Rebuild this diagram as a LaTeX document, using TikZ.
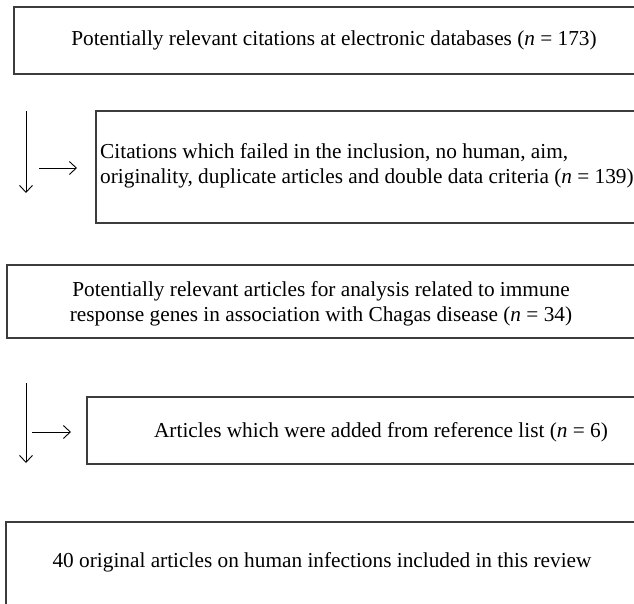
\documentclass[tikz,border=0pt]{standalone}
\usepackage{fontspec}
\setmainfont{Liberation Serif}
\usetikzlibrary{arrows.meta}
\definecolor{boxgray}{RGB}{60,60,60}
\tikzset{
  box/.style={draw=boxgray, line width=1.3pt},
  lbl/.style={font=\fontsize{21.3}{25}\selectfont, align=center, inner sep=0pt},
  flow/.style={line width=0.9pt, -{Straight Barb[length=7pt,width=13pt]}}
}
\begin{document}
\begin{tikzpicture}[x=1pt, y=-1pt]
\useasboundingbox (0,0) rectangle (634,603);
\clip (0,0) rectangle (634,603);
\draw[box] (14,7) rectangle (700,74);
\node[lbl] (cit) at (334,40) {Potentially relevant citations at electronic databases (\textit{n}~=~173)};
\draw[box] (96,111) rectangle (700,223);
\node[lbl, align=left, anchor=west] (fail) at (100,166) {Citations which failed in the inclusion, no human, aim,\\originality, duplicate articles and double data criteria (\textit{n}~=~139)};
\draw[box] (7,265) rectangle (700,338);
\node[lbl] (rel) at (321,304) {Potentially relevant articles for analysis related to immune\\response genes in association with Chagas disease (\textit{n}~=~34)};
\draw[box] (87,397) rectangle (700,464);
\node[lbl] (add) at (381,432) {Articles which were added from reference list (\textit{n}~=~6)};
\draw[box] (6,522) rectangle (700,700);
\node[lbl] (incl) at (322,562) {40 original articles on human infections included in this review};
\coordinate (d1s) at (26,111);
\coordinate (d1e) at (26,193);
\coordinate (r1s) at (39,168);
\coordinate (r1e) at (77,168);
\coordinate (d2s) at (26,383);
\coordinate (d2e) at (26,463);
\coordinate (r2s) at (32,432);
\coordinate (r2e) at (71,432);
\draw[flow] (d1s) -- (d1e);
\draw[flow] (r1s) -- (r1e);
\draw[flow] (d2s) -- (d2e);
\draw[flow] (r2s) -- (r2e);
\end{tikzpicture}
\end{document}
